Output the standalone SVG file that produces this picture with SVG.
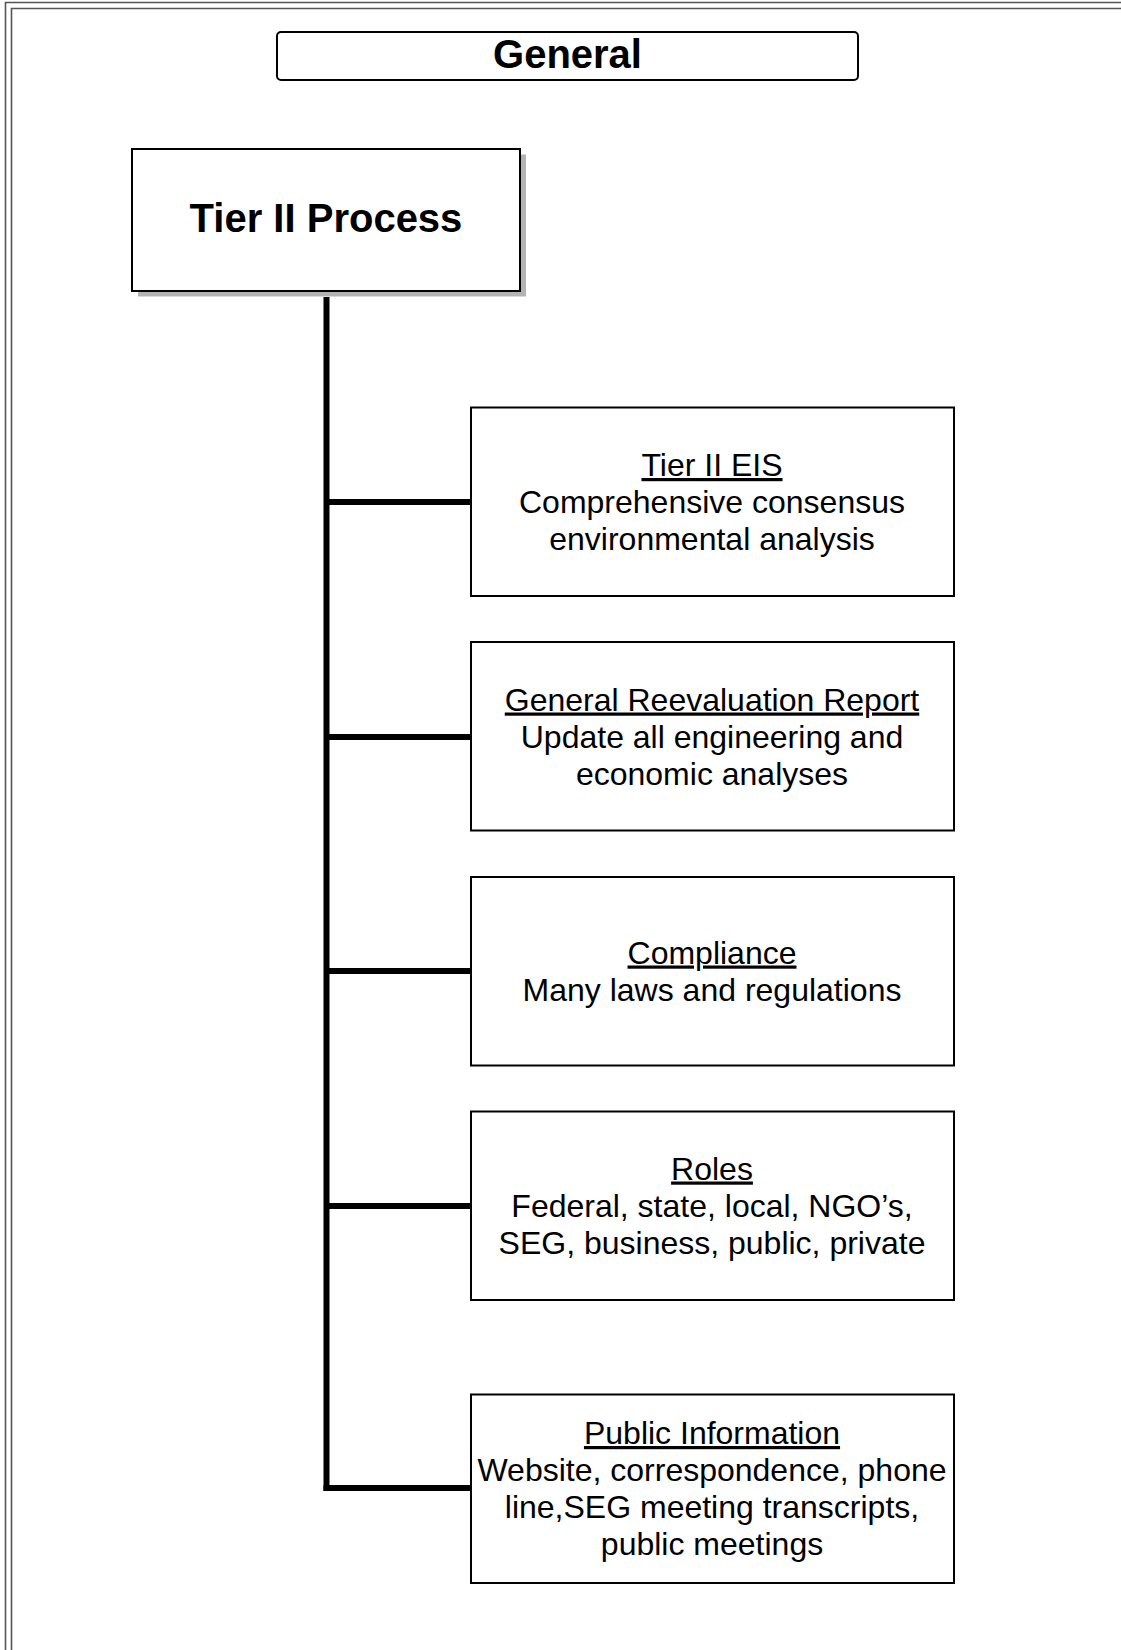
<svg xmlns="http://www.w3.org/2000/svg" width="1121" height="1650" viewBox="0 0 1121 1650">
<style>
.frame{fill:none;stroke:#555;stroke-width:1.6}
.box{fill:#fff;stroke:#000;stroke-width:2}
.title{font-family:"Liberation Sans",Arial,sans-serif;font-weight:bold;font-size:40px;fill:#000;text-anchor:middle}
.body{font-family:"Liberation Sans",Arial,sans-serif;font-size:32px;fill:#000;text-anchor:middle}
.ul{text-decoration:underline}
.conn{stroke:#000;stroke-width:6;fill:none}
</style>
<rect width="1121" height="1650" fill="#fff"/>
<g id="frame">
<path class="frame" d="M5.5,1650 V2.5 H1121"/>
<path class="frame" d="M11.5,1650 V8.5 H1121"/>
</g>
<g id="general">
<rect class="box" x="277" y="32" width="581" height="48" rx="4"/>
<text class="title" x="567.5" y="68" font-size="38">General</text>
</g>
<g id="tier2process">
<rect x="138" y="154.5" width="388" height="142" fill="#b3b3b3"/>
<rect class="box" x="132" y="149" width="388" height="142" stroke-width="2.5"/>
<text class="title" x="326" y="232">Tier II Process</text>
</g>
<g id="connectors">
<path class="conn" d="M326.5,297 V1491"/>
<path class="conn" d="M326.5,502 H471"/>
<path class="conn" d="M326.5,737 H471"/>
<path class="conn" d="M326.5,971 H471"/>
<path class="conn" d="M326.5,1206 H471"/>
<path class="conn" d="M323.5,1488 H471"/>
</g>
<g id="tier2eis">
<rect class="box" x="471" y="407.5" width="483" height="188.5"/>
<text class="body ul" x="712" y="476">Tier II EIS</text>
<text class="body" x="712" y="513">Comprehensive consensus</text>
<text class="body" x="712" y="550">environmental analysis</text>
</g>
<g id="gre">
<rect class="box" x="471" y="642" width="483" height="188.5"/>
<text class="body ul" x="712" y="710.5">General Reevaluation Report</text>
<text class="body" x="712" y="747.5">Update all engineering and</text>
<text class="body" x="712" y="784.5">economic analyses</text>
</g>
<g id="compliance">
<rect class="box" x="471" y="877" width="483" height="188.5"/>
<text class="body ul" x="712" y="963.5">Compliance</text>
<text class="body" x="712" y="1000.5">Many laws and regulations</text>
</g>
<g id="roles">
<rect class="box" x="471" y="1111.5" width="483" height="188.5"/>
<text class="body ul" x="712" y="1179.5">Roles</text>
<text class="body" x="712" y="1216.5">Federal, state, local, NGO’s,</text>
<text class="body" x="712" y="1253.5">SEG, business, public, private</text>
</g>
<g id="publicinfo">
<rect class="box" x="471" y="1394.5" width="483" height="188.5"/>
<text class="body ul" x="712" y="1444">Public Information</text>
<text class="body" x="712" y="1481">Website, correspondence, phone</text>
<text class="body" x="712" y="1518">line,SEG meeting transcripts,</text>
<text class="body" x="712" y="1555">public meetings</text>
</g>
</svg>
